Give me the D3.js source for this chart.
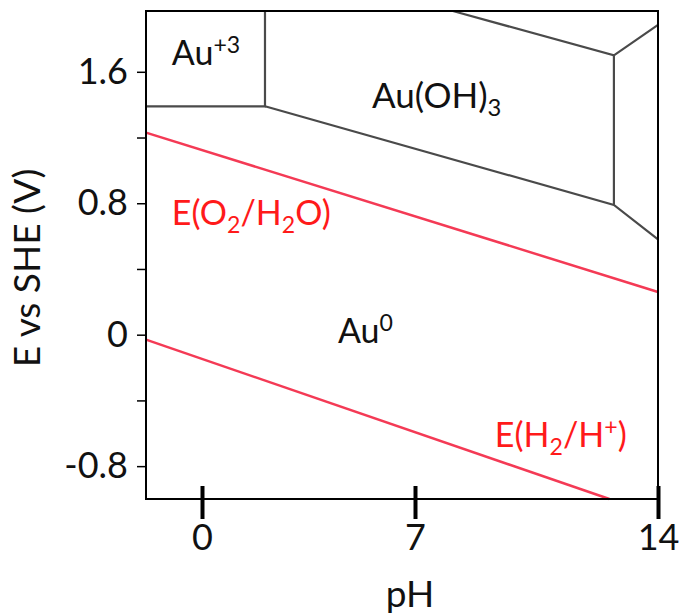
<!DOCTYPE html>
<html lang="en">
<head>
<meta charset="utf-8">
<title>Au Pourbaix</title>
<script src="https://d3js.org/d3.v7.min.js"></script>
<style>
  body { margin: 0; background: #fff; }
  text { font-family: Lato, "Open Sans", sans-serif; }
</style>
</head>
<body>
<script>
// pH ticks and potential ticks
var xTickValues = [0, 7, 14];
var yTickValues = [-0.8, -0.4, 0, 0.4, 0.8, 1.2, 1.6];
var yTickLabels = ["-0.8", "", "0", "", "0.8", "", "1.6"];

// stability domain boundaries, [pH, E]
var au3Boundary = [[2.07, 1.97], [2.07, 1.39], [-1.84, 1.39]];
var auOH3Lower = [[2.07, 1.39], [12.73, 0.79], [14, 0.58]];
var auOH3Upper = [[8.09, 1.97], [12.73, 1.70], [14, 1.885]];
var auOH3Right = [[12.73, 1.70], [12.73, 0.79]];

// water stability lines
var lineO2 = [[-1.84, 1.23], [14, 0.26]];
var lineH2 = [[-1.84, -0.03], [12.6, -1.0]];

var w = 679, h = 614;
var svg = d3.select("body").append("svg").attr("width", w).attr("height", h);

// the original axis is not evenly spaced, so a polylinear scale
var x = d3.scaleLinear().domain([-1.84, 0, 7, 14]).range([146, 202, 415, 658]);
var y = d3.scaleLinear().domain([-1.0, 1.97]).range([499, 11]);

var line = d3.line().x(d => x(d[0])).y(d => y(d[1]));

[au3Boundary, auOH3Lower, auOH3Upper, auOH3Right].forEach(function (b) {
    svg.append("path").attr("d", line(b))
        .attr("fill", "none").attr("stroke", "#4a4a4a").attr("stroke-width", 2.2);
});

[lineO2, lineH2].forEach(function (b) {
    svg.append("path").attr("d", line(b))
        .attr("fill", "none").attr("stroke", "#f43a55").attr("stroke-width", 2.5);
});

// frame
svg.append("rect")
    .attr("x", x.range()[0]).attr("y", y.range()[1])
    .attr("width", x.range()[3] - x.range()[0])
    .attr("height", y.range()[0] - y.range()[1])
    .attr("fill", "none").attr("stroke", "#000").attr("stroke-width", 2);

// y axis
var yAxis = svg.append("g").attr("transform", "translate(" + x.range()[0] + ",0)")
    .call(d3.axisLeft(y).tickValues(yTickValues).tickSize(9).tickPadding(9)
        .tickFormat((d, i) => yTickLabels[i]));
yAxis.select(".domain").remove();
yAxis.selectAll("line").attr("stroke", "#000").attr("stroke-width", 1.5);
yAxis.selectAll("text").attr("font-size", 36).attr("fill", "#111")
    .style("font-family", "Lato, sans-serif");

// x axis, ticks cross the frame
var xAxis = svg.append("g").attr("transform", "translate(0," + y.range()[0] + ")")
    .call(d3.axisBottom(x).tickValues(xTickValues).tickSize(20).tickPadding(5));
xAxis.select(".domain").remove();
xAxis.selectAll("line").attr("y1", -13).attr("stroke", "#000").attr("stroke-width", 4);
xAxis.selectAll("text").attr("font-size", 36).attr("fill", "#111")
    .style("font-family", "Lato, sans-serif");

// axis titles
svg.append("text").attr("x", 410).attr("y", 607)
    .attr("text-anchor", "middle").attr("font-size", 37).attr("fill", "#111").text("pH");
svg.append("text").attr("transform", "translate(40,268) rotate(-90)")
    .attr("text-anchor", "middle").attr("font-size", 37).attr("fill", "#111").text("E vs SHE (V)");

// labels with sub/superscripts
function label(px, pe, parts, color, size) {
    var t = svg.append("text").attr("x", x(px)).attr("y", y(pe))
        .attr("font-size", size).attr("fill", color);
    var shift = 0;
    parts.forEach(function (p) {
        var s = p[1] === "sup" ? -12 : p[1] === "sub" ? 8 : 0;
        t.append("tspan").attr("dy", s - shift)
            .attr("font-size", p[1] ? size * 0.68 : size).text(p[0]);
        shift = s;
    });
}

label(-0.99, 1.64, [["Au"], ["+3", "sup"]], "#111", 34);
label(5.59, 1.38, [["Au(OH)"], ["3", "sub"]], "#111", 35);
label(4.47, -0.05, [["Au"], ["0", "sup"]], "#111", 34);
label(-0.99, 0.668, [["E(O"], ["2", "sub"], ["/H"], ["2", "sub"], ["O)"]], "#ff1a1a", 34);
label(9.30, -0.684, [["E(H"], ["2", "sub"], ["/H"], ["+", "sup"], [")"]], "#ff1a1a", 34);
</script>
</body>
</html>
